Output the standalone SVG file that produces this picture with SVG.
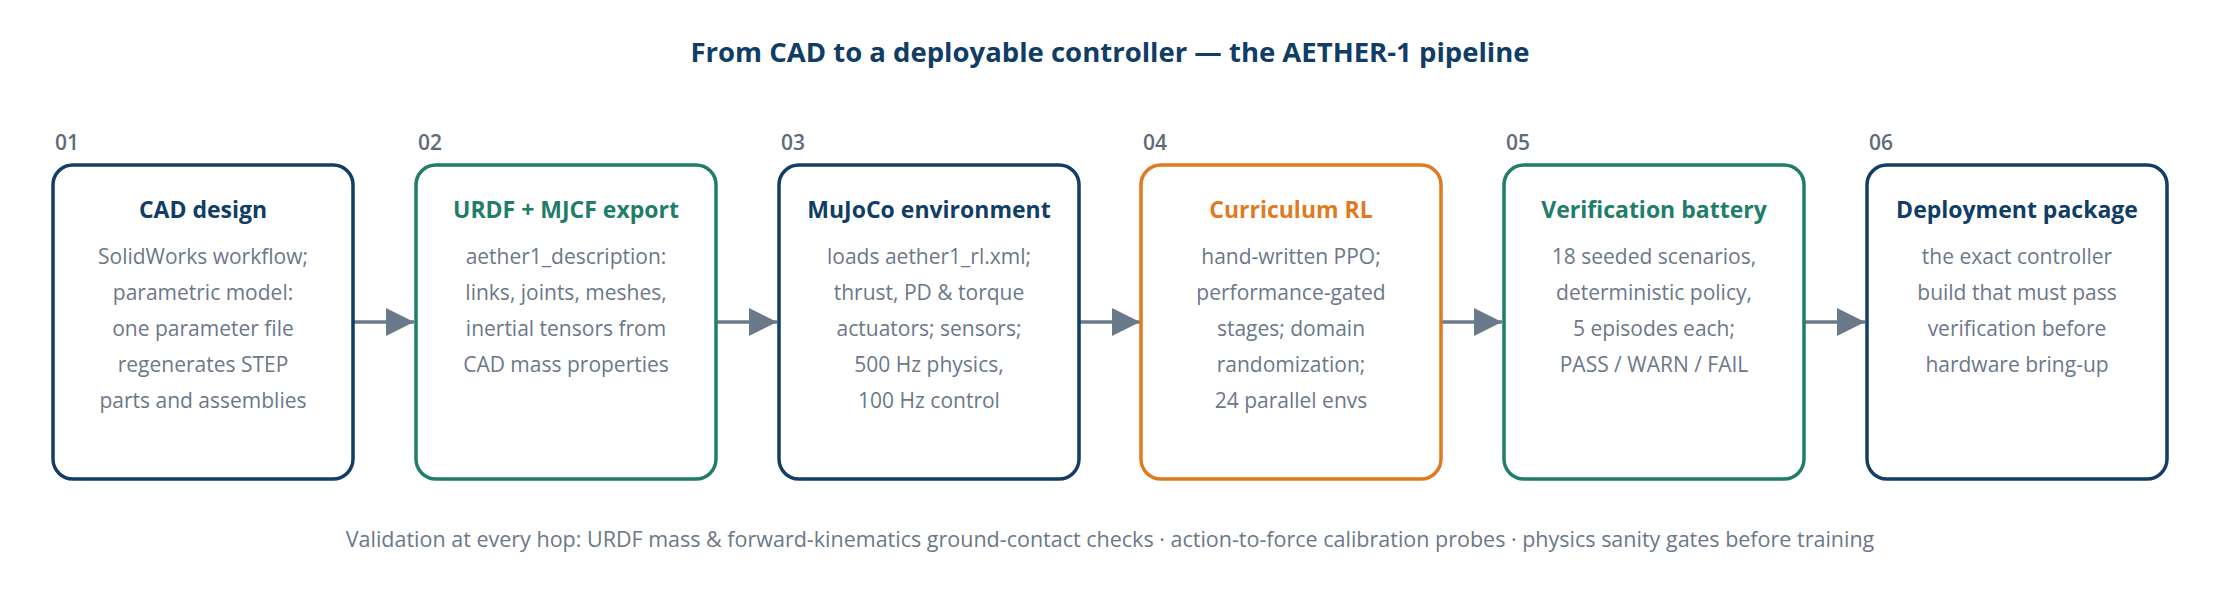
<svg xmlns="http://www.w3.org/2000/svg" width="2220" height="600" viewBox="0 0 2220 600">
<style>
.bg{fill:#ffffff}
.main{font-family:"Open Sans","Noto Sans","Liberation Sans",sans-serif;font-weight:700;font-size:27.5px;fill:#0f3d66;text-anchor:middle}
.num{font-family:"Open Sans","Noto Sans","Liberation Sans",sans-serif;font-weight:600;font-size:21px;fill:#5f6b7a}
.box{fill:#ffffff;stroke-width:3.5}
.navy .box{stroke:#123e66}
.teal .box{stroke:#1f7d69}
.orange .box{stroke:#e07a1f}
.ttl{font-family:"Open Sans","Noto Sans","Liberation Sans",sans-serif;font-weight:700;font-size:23px;text-anchor:middle}
.navy .ttl{fill:#0f3d66}
.teal .ttl{fill:#1f7d69}
.orange .ttl{fill:#e07a1f}
.body{font-family:"Open Sans","Noto Sans","Liberation Sans",sans-serif;font-size:21px;fill:#6b7889;text-anchor:middle}
.conn{stroke:#6b7a8a;stroke-width:3.5;fill:none}
.foot{font-family:"Open Sans","Noto Sans","Liberation Sans",sans-serif;font-size:21.5px;fill:#6b7889;text-anchor:middle}
</style>
<defs>
<marker id="ah" markerWidth="28" markerHeight="28" viewBox="0 0 28 28" refX="28" refY="14" markerUnits="userSpaceOnUse" orient="auto">
<path d="M0,0 L28,14 L0,28 Z" fill="#6b7a8a"/>
</marker>
</defs>
<rect class="bg" x="0" y="0" width="2220" height="600"/>
<text class="main" x="1110" y="62">From CAD to a deployable controller — the AETHER-1 pipeline</text>

<g id="connectors">
<line class="conn" x1="353" y1="322" x2="414" y2="322" marker-end="url(#ah)"/>
<line class="conn" x1="716" y1="322" x2="777" y2="322" marker-end="url(#ah)"/>
<line class="conn" x1="1079" y1="322" x2="1140" y2="322" marker-end="url(#ah)"/>
<line class="conn" x1="1441" y1="322" x2="1502" y2="322" marker-end="url(#ah)"/>
<line class="conn" x1="1804" y1="322" x2="1865" y2="322" marker-end="url(#ah)"/>
</g>

<g id="node1" class="navy">
<text class="num" x="55" y="150">01</text>
<rect class="box" x="53" y="165" width="300" height="314" rx="20"/>
<text class="ttl" x="203" y="218">CAD design</text>
<text class="body" x="203" y="264">SolidWorks workflow;</text>
<text class="body" x="203" y="300">parametric model:</text>
<text class="body" x="203" y="336">one parameter file</text>
<text class="body" x="203" y="372">regenerates STEP</text>
<text class="body" x="203" y="408">parts and assemblies</text>
</g>

<g id="node2" class="teal">
<text class="num" x="418" y="150">02</text>
<rect class="box" x="416" y="165" width="300" height="314" rx="20"/>
<text class="ttl" x="566" y="218">URDF + MJCF export</text>
<text class="body" x="566" y="264">aether1_description:</text>
<text class="body" x="566" y="300">links, joints, meshes,</text>
<text class="body" x="566" y="336">inertial tensors from</text>
<text class="body" x="566" y="372">CAD mass properties</text>
</g>

<g id="node3" class="navy">
<text class="num" x="781" y="150">03</text>
<rect class="box" x="779" y="165" width="300" height="314" rx="20"/>
<text class="ttl" x="929" y="218">MuJoCo environment</text>
<text class="body" x="929" y="264">loads aether1_rl.xml;</text>
<text class="body" x="929" y="300">thrust, PD &amp; torque</text>
<text class="body" x="929" y="336">actuators; sensors;</text>
<text class="body" x="929" y="372">500 Hz physics,</text>
<text class="body" x="929" y="408">100 Hz control</text>
</g>

<g id="node4" class="orange">
<text class="num" x="1143" y="150">04</text>
<rect class="box" x="1141" y="165" width="300" height="314" rx="20"/>
<text class="ttl" x="1291" y="218">Curriculum RL</text>
<text class="body" x="1291" y="264">hand-written PPO;</text>
<text class="body" x="1291" y="300">performance-gated</text>
<text class="body" x="1291" y="336">stages; domain</text>
<text class="body" x="1291" y="372">randomization;</text>
<text class="body" x="1291" y="408">24 parallel envs</text>
</g>

<g id="node5" class="teal">
<text class="num" x="1506" y="150">05</text>
<rect class="box" x="1504" y="165" width="300" height="314" rx="20"/>
<text class="ttl" x="1654" y="218">Verification battery</text>
<text class="body" x="1654" y="264">18 seeded scenarios,</text>
<text class="body" x="1654" y="300">deterministic policy,</text>
<text class="body" x="1654" y="336">5 episodes each;</text>
<text class="body" x="1654" y="372">PASS / WARN / FAIL</text>
</g>

<g id="node6" class="navy">
<text class="num" x="1869" y="150">06</text>
<rect class="box" x="1867" y="165" width="300" height="314" rx="20"/>
<text class="ttl" x="2017" y="218">Deployment package</text>
<text class="body" x="2017" y="264">the exact controller</text>
<text class="body" x="2017" y="300">build that must pass</text>
<text class="body" x="2017" y="336">verification before</text>
<text class="body" x="2017" y="372">hardware bring-up</text>
</g>

<text class="foot" x="1110" y="547">Validation at every hop: URDF mass &amp; forward-kinematics ground-contact checks · action-to-force calibration probes · physics sanity gates before training</text>
</svg>
